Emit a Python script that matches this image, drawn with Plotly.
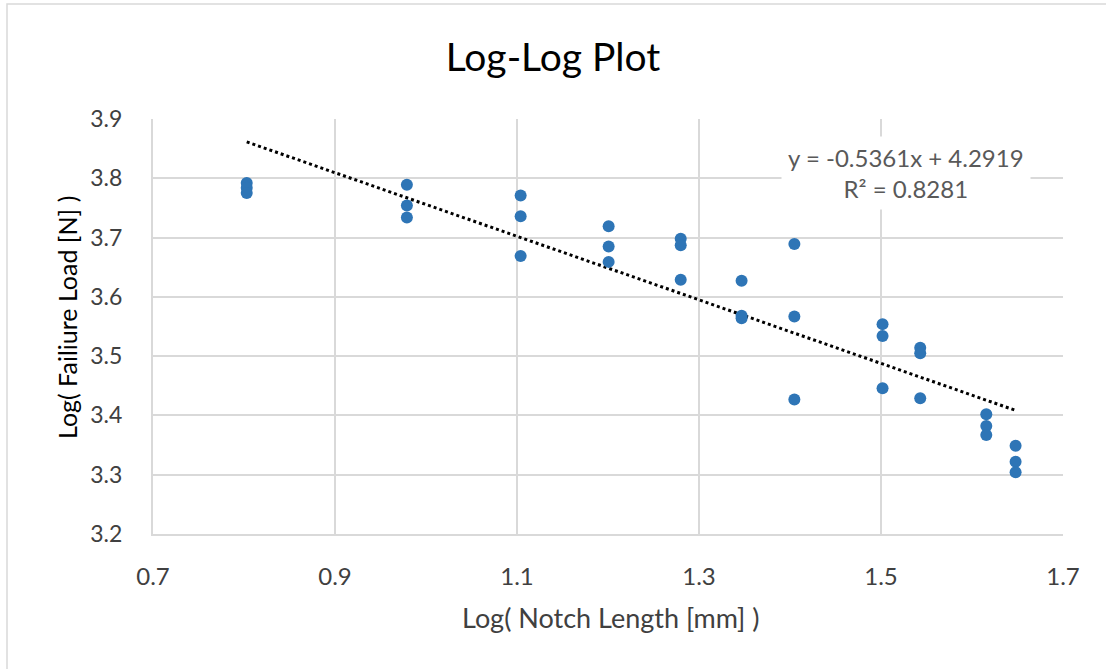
import plotly.graph_objects as go

# Data
log_notch = [0.803, 0.803, 0.803,
             0.979, 0.979, 0.979,
             1.104, 1.104, 1.104,
             1.2007, 1.2007, 1.2007,
             1.2799, 1.2799, 1.2799,
             1.3468, 1.3468, 1.3468,
             1.4048, 1.4048, 1.4048,
             1.5017, 1.5017, 1.5017,
             1.5431, 1.5431, 1.5431,
             1.6157, 1.6157, 1.6157,
             1.6479, 1.6479, 1.6479]
log_load = [3.792, 3.784, 3.775,
            3.789, 3.754, 3.734,
            3.771, 3.736, 3.669,
            3.719, 3.685, 3.659,
            3.698, 3.687, 3.629,
            3.627, 3.568, 3.564,
            3.689, 3.567, 3.427,
            3.554, 3.534, 3.446,
            3.514, 3.505, 3.429,
            3.402, 3.382, 3.367,
            3.349, 3.322, 3.304]

slope = -0.5361
intercept = 4.2919
r_squared = 0.8281

x_ticks = [0.7, 0.9, 1.1, 1.3, 1.5, 1.7]
y_ticks = [3.2, 3.3, 3.4, 3.5, 3.6, 3.7, 3.8, 3.9]

trend_x = [min(log_notch), max(log_notch)]
trend_y = [slope * v + intercept for v in trend_x]

FONT = "Lato"
W, H = 1106, 669
ML, MR, MT, MB = 153, 43, 119, 135
PW, PH = W - ML - MR, H - MT - MB


def px_x(p):
    return (p - ML) / PW


def px_y(p):
    return 1 - (p - MT) / PH


fig = go.Figure()
fig.add_trace(go.Scatter(
    x=trend_x, y=trend_y, mode="lines",
    line=dict(color="black", width=3, dash="dot"),
    hoverinfo="skip", showlegend=False))
fig.add_trace(go.Scatter(
    x=log_notch, y=log_load, mode="markers",
    marker=dict(color="#2E75B6", size=12),
    showlegend=False))

grid = "#d9d9d9"
fig.update_xaxes(range=[0.7, 1.7], tickvals=x_ticks,
                 ticktext=[f"{v:.1f}" for v in x_ticks],
                 showgrid=True, gridcolor=grid, gridwidth=2,
                 zeroline=False, showline=True, linecolor=grid, linewidth=2,
                 ticks="", ticklabelstandoff=20,
                 tickfont=dict(family=FONT, size=24, color="#404040"))
fig.update_yaxes(range=[3.2, 3.9], tickvals=y_ticks,
                 ticktext=[f"{v:.1f}" for v in y_ticks],
                 showgrid=True, gridcolor=grid, gridwidth=2,
                 zeroline=False, showline=True, linecolor=grid, linewidth=2,
                 ticks="", ticklabelstandoff=24,
                 tickfont=dict(family=FONT, size=23, color="#404040"))

# axis titles
fig.add_annotation(x=px_x(610), y=px_y(617), xref="paper", yref="paper",
                   text="Log( Notch Length [mm] )", showarrow=False,
                   xanchor="center", yanchor="middle",
                   font=dict(family=FONT, size=27, color="#404040"))
fig.add_annotation(x=px_x(67), y=px_y(318), xref="paper", yref="paper",
                   text="Log( Failiure Load [N] )", showarrow=False,
                   textangle=-90, xanchor="center", yanchor="middle",
                   font=dict(family=FONT, size=25, color="black"))

# trendline label
fig.add_annotation(
    x=1.527, y=3.8086, xref="x", yref="y",
    text=f"y = {slope:.4f}x + {intercept:.4f}<br>R² = {r_squared:.4f}",
    showarrow=False, align="center",
    font=dict(family=FONT, size=24, color="#595959"),
    bgcolor="white", borderpad=6)

# outer chart border (top and left edges visible)
fig.add_shape(type="rect", xref="paper", yref="paper",
              x0=px_x(7), x1=px_x(W + 20),
              y0=px_y(H + 20), y1=px_y(4),
              line=dict(color="#d9d9d9", width=1.5), layer="below")

fig.update_layout(
    width=W, height=H,
    margin=dict(l=ML, r=MR, t=MT, b=MB),
    paper_bgcolor="white", plot_bgcolor="white",
    title=dict(text="Log-Log Plot", x=0.5, xanchor="center",
               y=1 - 57 / H, yanchor="middle",
               font=dict(family=FONT, size=39, color="black")),
)

fig.write_html("out.html", config={"displayModeBar": False},
               post_script="document.body.style.margin='0';")
